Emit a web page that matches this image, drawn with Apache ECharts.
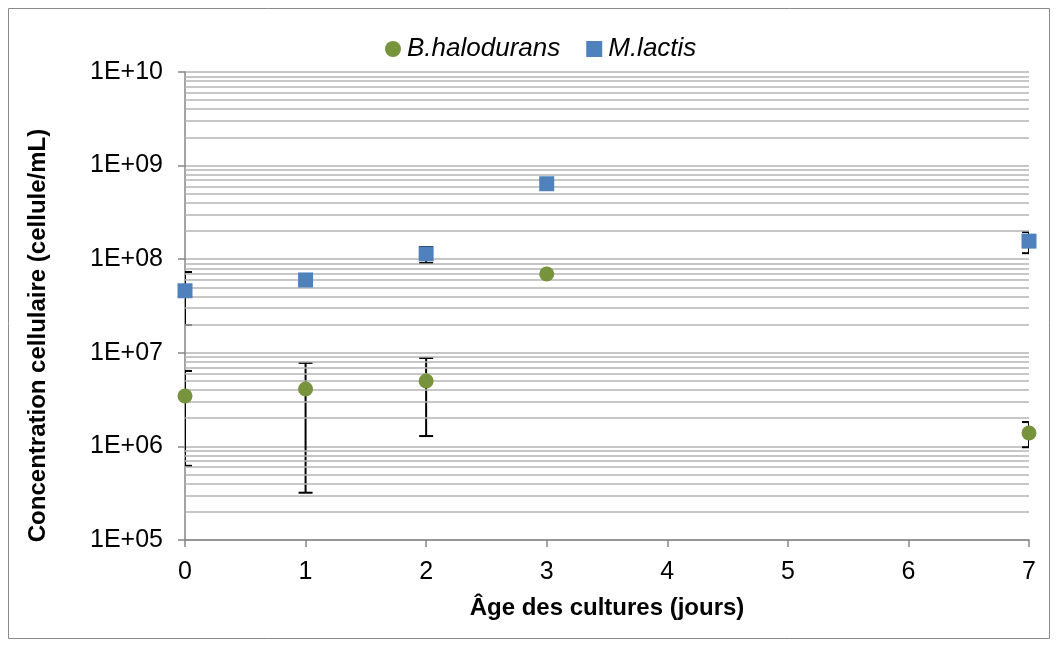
<!DOCTYPE html>
<html><head><meta charset="utf-8">
<script src="https://cdn.jsdelivr.net/npm/echarts@6/dist/echarts.min.js"></script>
<style>html,body{margin:0;padding:0;background:#fff}#c{width:1058px;height:646px}</style>
</head><body><div id="c"></div>
<script>
// Data (days, concentration cell/mL)
var days = [0, 1, 2, 3, 7];
var bhName = 'B.halodurans';
var bhValues = [3.45e6, 4.1e6, 5.0e6, 6.95e7, 1.39e6];
var bhLow = [6.2e5, 3.2e5, 1.29e6, null, 9.8e5];
var bhHigh = [6.4e6, 7.8e6, 8.8e6, null, 1.82e6];
var mlName = 'M.lactis';
var mlValues = [4.6e7, 6.0e7, 1.14e8, 6.4e8, 1.56e8];
var mlLow = [1.98e7, null, 9.1e7, null, 1.16e8];
var mlHigh = [7.3e7, null, 1.35e8, null, 1.95e8];
var xTicks = [0, 1, 2, 3, 4, 5, 6, 7];
var yDecades = [5, 6, 7, 8, 9, 10];

var font = '"Liberation Sans", Arial, sans-serif';
var gridColor = '#b4b4b4';
var axisColor = '#868686';

// minor gridline values (2..9 × each decade)
var minorGrid = [];
for (var d = yDecades[0]; d < yDecades[yDecades.length - 1]; d++) for (var k = 2; k <= 9; k++) minorGrid.push({yAxis: k * Math.pow(10, d)});

function errData(low, high) {
  var out = [];
  for (var i = 0; i < days.length; i++) if (low[i] != null) out.push([days[i], low[i], high[i]]);
  return out;
}
function errSeries(low, high) {
  return {
    type: 'custom', silent: true, z: 3, clip: true,
    data: errData(low, high),
    renderItem: function (params, api) {
      var x = api.value(0);
      var lo = api.coord([x, api.value(1)]);
      var hi = api.coord([x, api.value(2)]);
      var w = 7;
      var st = {stroke: '#000', lineWidth: 2};
      return {type: 'group', children: [
        {type: 'line', shape: {x1: lo[0], y1: lo[1], x2: hi[0], y2: hi[1]}, style: st},
        {type: 'line', shape: {x1: lo[0] - w, y1: lo[1], x2: lo[0] + w, y2: lo[1]}, style: st},
        {type: 'line', shape: {x1: hi[0] - w, y1: hi[1], x2: hi[0] + w, y2: hi[1]}, style: st}
      ]};
    }
  };
}

var chart = echarts.init(document.getElementById('c'));
chart.setOption({
  animation: false,
  backgroundColor: '#fff',
  graphic: [{type: 'rect', shape: {x: 8.5, y: 8.5, width: 1041, height: 630}, style: {fill: 'none', stroke: '#8a8a8a', lineWidth: 1}, silent: true, z: -10}],
  legend: {
    top: 31, left: 380, itemGap: 26, itemWidth: 16, itemHeight: 16,
    textStyle: {fontFamily: font, fontSize: 26, fontStyle: 'italic', color: '#000', padding: [0, 0, 0, 1]},
    data: [{name: bhName, icon: 'circle'}, {name: mlName, icon: 'rect'}]
  },
  grid: {left: 185, right: 29, top: 72, bottom: 106},
  xAxis: {
    type: 'value', min: 0, max: 7, interval: 1,
    name: 'Âge des cultures (jours)', nameLocation: 'middle', nameGap: 56,
    nameTextStyle: {fontFamily: font, fontSize: 24, fontWeight: 'bold', color: '#000'},
    axisLine: {lineStyle: {color: axisColor, width: 1.5}},
    axisTick: {show: true, length: 7, lineStyle: {color: axisColor, width: 1.5}},
    axisLabel: {fontFamily: font, fontSize: 25, color: '#000', margin: 20},
    splitLine: {show: false}
  },
  yAxis: {
    type: 'log', logBase: 10, min: 1e5, max: 1e10,
    name: 'Concentration cellulaire (cellule/mL)', nameLocation: 'middle', nameGap: 135,
    nameTextStyle: {fontFamily: font, fontSize: 24, fontWeight: 'bold', color: '#000', padding: [0, 59, 0, 0]},
    axisLine: {show: true, lineStyle: {color: axisColor, width: 1.5}},
    axisTick: {show: true, length: 7, lineStyle: {color: axisColor, width: 1.5}},
    axisLabel: {fontFamily: font, fontSize: 25, color: '#000', margin: 22,
      formatter: function (v) { var e = Math.round(Math.log10(v)); return '1E+' + (e < 10 ? '0' + e : e); }},
    splitLine: {show: true, lineStyle: {color: gridColor, width: 1.5}}
  },
  series: [
    {
      type: 'line', data: [], silent: true,
      markLine: {silent: true, symbol: 'none', label: {show: false}, animation: false,
        lineStyle: {color: gridColor, width: 1.5, type: 'solid'}, data: minorGrid}
    },
    errSeries(bhLow, bhHigh),
    errSeries(mlLow, mlHigh),
    {name: bhName, type: 'scatter', symbol: 'circle', symbolSize: 15, z: 5,
      itemStyle: {color: '#77933C', opacity: 1},
      data: days.map(function (d, i) { return [d, bhValues[i]]; })},
    {name: mlName, type: 'scatter', symbol: 'rect', symbolSize: 15, z: 5,
      itemStyle: {color: '#4F81BD', opacity: 1},
      data: days.map(function (d, i) { return [d, mlValues[i]]; })}
  ]
});
</script></body></html>
